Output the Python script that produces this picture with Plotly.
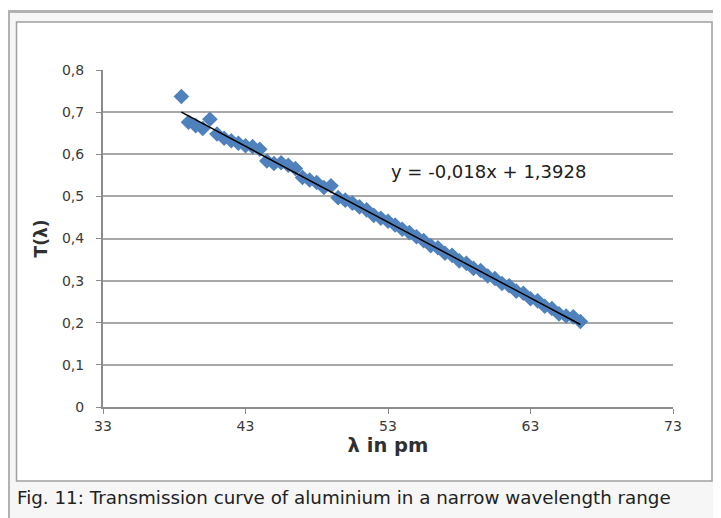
import plotly.graph_objects as go

# ---- data ----
wavelength_pm = [38.5, 39, 39.5, 40, 40.5, 41, 41.5, 42, 42.5, 43, 43.5, 44, 44.5, 45, 45.5,
                 46, 46.5, 47, 47.5, 48, 48.5, 49, 49.5, 50, 50.5, 51, 51.5, 52, 52.5, 53,
                 53.5, 54, 54.5, 55, 55.5, 56, 56.5, 57, 57.5, 58, 58.5, 59, 59.5, 60, 60.5,
                 61, 61.5, 62, 62.5, 63, 63.5, 64, 64.5, 65, 65.5, 66, 66.5]
transmission = [0.737, 0.676, 0.668, 0.661, 0.683, 0.648, 0.638, 0.632, 0.626, 0.620, 0.618,
                0.612, 0.584, 0.578, 0.580, 0.574, 0.566, 0.545, 0.539, 0.533, 0.521, 0.525,
                0.497, 0.491, 0.484, 0.475, 0.468, 0.455, 0.448, 0.441, 0.432, 0.422, 0.414,
                0.404, 0.395, 0.383, 0.378, 0.365, 0.360, 0.347, 0.341, 0.329, 0.324, 0.311,
                0.305, 0.293, 0.288, 0.275, 0.270, 0.257, 0.252, 0.239, 0.234, 0.221, 0.216,
                0.214, 0.203]
trend_slope = -0.018
trend_intercept = 1.3928
x_tick_vals = [33, 43, 53, 63, 73]
y_tick_vals = [0, 0.1, 0.2, 0.3, 0.4, 0.5, 0.6, 0.7, 0.8]
y_tick_text = ["0", "0,1", "0,2", "0,3", "0,4", "0,5", "0,6", "0,7", "0,8"]
equation_text = "y = -0,018x + 1,3928"
caption_text = "Fig. 11: Transmission curve of aluminium in a narrow wavelength range"

# ---- geometry helpers (target pixel -> paper); page body has an 8px margin ----
OFF = 8
W, H = 721 - OFF, 518 - OFF
L, R, T, B = 103 - OFF, 673 - OFF, 70 - OFF, 407 - OFF
def px(xp):
    return (xp - OFF - L) / (R - L)
def py(yp):
    return (B - (yp - OFF)) / (B - T)

trend_x = [wavelength_pm[0], wavelength_pm[-1]]
trend_y = [trend_slope * v + trend_intercept for v in trend_x]

fig = go.Figure()
fig.add_trace(go.Scatter(
    x=wavelength_pm, y=transmission, mode="markers",
    marker=dict(symbol="diamond", size=12, color="#4f81bd", line=dict(width=0)),
    showlegend=False, hoverinfo="x+y"))
fig.add_trace(go.Scatter(
    x=trend_x, y=trend_y, mode="lines",
    line=dict(color="#000000", width=1.5), showlegend=False))

font_ticks = dict(family="DejaVu Sans", size=14, color="#3a3a3a")

fig.update_layout(
    width=W, height=H,
    margin=dict(l=L, r=W - R, t=T, b=H - B, autoexpand=False),
    paper_bgcolor="#ffffff",
    plot_bgcolor="rgba(0,0,0,0)",
    xaxis=dict(range=[33, 73], tickvals=x_tick_vals, showgrid=False, zeroline=False,
               showline=True, linecolor="#8c8c8c", linewidth=2,
               ticks="outside", ticklen=5, tickcolor="#8c8c8c",
               tickfont=font_ticks, automargin=False,
               title=dict(text="<b>λ in pm</b>", standoff=0,
                          font=dict(family="DejaVu Sans", size=19.5, color="#303030"))),
    yaxis=dict(range=[0, 0.8], tickvals=y_tick_vals, ticktext=y_tick_text,
               showgrid=True, gridcolor="#a8a8a8", gridwidth=1.5, zeroline=False,
               showline=True, linecolor="#8c8c8c", linewidth=2,
               ticks="outside", ticklen=5, tickcolor="#8c8c8c",
               ticklabelstandoff=9,
               tickfont=font_ticks, automargin=False,
               title=dict(text="<b>T(λ)</b>", standoff=10,
                          font=dict(family="DejaVu Sans", size=17, color="#303030"))),
    shapes=[
        dict(type="rect", xref="paper", yref="paper", layer="below",
             x0=px(8.5), x1=px(760), y0=py(11.5), y1=py(560),
             line=dict(color="#b2b2b2", width=3), fillcolor="#f6f6f6"),
        dict(type="rect", xref="paper", yref="paper", layer="below",
             x0=px(16.5), x1=px(712), y0=py(22), y1=py(481),
             line=dict(color="#a0a0a0", width=1.5), fillcolor="#ffffff"),
    ],
    annotations=[
        dict(text=equation_text, x=53.1, y=0.558, xref="x", yref="y",
             xanchor="left", yanchor="middle", showarrow=False,
             font=dict(family="DejaVu Sans", size=18, color="#202020")),
        dict(text=caption_text, x=px(15), y=py(497), xref="paper", yref="paper",
             xanchor="left", yanchor="middle", showarrow=False,
             font=dict(family="DejaVu Sans", size=18.3, color="#222222")),
    ],
)

fig.write_html("out.html")
